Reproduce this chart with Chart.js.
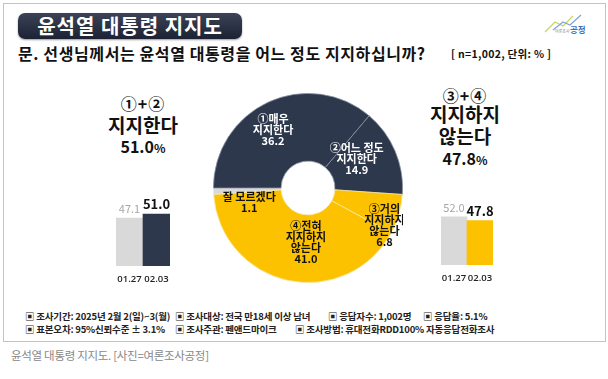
<!DOCTYPE html>
<html><head><meta charset="utf-8">
<script src="https://cdn.jsdelivr.net/npm/chart.js@4/dist/chart.umd.min.js"></script>
<style>
html,body{margin:0;padding:0;background:#fff;}
body{width:608px;height:379px;position:relative;overflow:hidden;font-family:"Noto Sans CJK KR","Noto Sans",sans-serif;color:#111;}
.abs{position:absolute;white-space:nowrap;}
#frame{position:absolute;left:3px;top:3px;width:601px;height:337px;border:1px solid #c4c4c4;}
#title{left:18px;top:13px;width:224px;height:26px;border-radius:7px;background:linear-gradient(#3b4356,#1c2233);color:#fff;font-size:20px;font-weight:700;text-align:center;line-height:26px;letter-spacing:1px;box-shadow:0 1px 2px rgba(0,0,0,.4);}
#q{left:18px;top:41px;font-size:16px;font-weight:700;letter-spacing:0.6px;}
#n{left:451px;top:46px;font-size:10.5px;font-weight:700;letter-spacing:0.3px;}
.big{text-align:center;font-weight:700;line-height:1;}
.foot{font-size:9.5px;font-weight:700;color:#222;letter-spacing:-0.2px;}
#cap{left:11px;top:347px;font-size:11.5px;color:#888;letter-spacing:-0.3px;}
canvas{position:absolute;}
</style></head>
<body>
<div id="frame"></div>
<div id="title" class="abs">윤석열 대통령 지지도</div>
<div id="q" class="abs">문. 선생님께서는 윤석열 대통령을 어느 정도 지지하십니까?</div>
<div id="n" class="abs">[ n=1,002, 단위: % ]</div>
<svg class="abs" style="left:543px;top:12px" width="45" height="28" viewBox="0 0 45 28">
<polyline points="2,20 12,10 20,14 30,4" fill="none" stroke="#c9d36a" stroke-width="1.3"/>
<polyline points="10,18 20,10 27,13 38,3" fill="none" stroke="#7fa8d8" stroke-width="1.3"/>
</svg>
<div class="abs" style="left:555px;top:28px;font-size:4px;color:#8a8a8a;">여론조사</div>
<div class="abs" style="left:570px;top:23px;font-size:8.5px;color:#3d6db5;font-weight:700;">공정</div>

<div class="abs big" style="left:93px;width:100px;top:95px;font-size:16px;letter-spacing:1px;">①+②</div>
<div class="abs big" style="left:93px;width:100px;top:115px;font-size:19px;">지지한다</div>
<div class="abs big" style="left:93px;width:100px;top:138px;font-size:16px;" id="lt"></div>

<div class="abs big" style="left:415px;width:100px;top:87px;font-size:16px;letter-spacing:1px;">③+④</div>
<div class="abs big" style="left:415px;width:100px;top:104px;font-size:19px;">지지하지</div>
<div class="abs big" style="left:415px;width:100px;top:126px;font-size:19px;">않는다</div>
<div class="abs big" style="left:415px;width:100px;top:150px;font-size:16px;" id="rt"></div>

<canvas id="donut" width="190" height="190" style="left:213px;top:93px;width:190px;height:190px"></canvas>
<canvas id="barL" width="94" height="140" style="left:96px;top:150px;width:94px;height:140px"></canvas>
<canvas id="barR" width="92" height="140" style="left:421px;top:149px;width:92px;height:140px"></canvas>

<div class="abs foot" style="left:25px;top:309px;">▣ 조사기간: 2025년 2월 2(일)~3(월)</div>
<div class="abs foot" style="left:175px;top:309px;">▣ 조사대상: 전국 만18세 이상 남녀</div>
<div class="abs foot" style="left:328px;top:309px;">▣ 응답자수: 1,002명</div>
<div class="abs foot" style="left:423px;top:309px;">▣ 응답율: 5.1%</div>
<div class="abs foot" style="left:25px;top:322px;">▣ 표본오차: 95%신뢰수준 ± 3.1%</div>
<div class="abs foot" style="left:175px;top:322px;">▣ 조사주관: 펜앤드마이크</div>
<div class="abs foot" style="left:295px;top:322px;">▣ 조사방법: 휴대전화RDD100% 자동응답전화조사</div>
<div id="cap" class="abs">윤석열 대통령 지지도. [사진=여론조사공정]</div>

<script>
// ---- data ----
const donutLabels = ["잘 모르겠다", "①매우 지지한다", "②어느 정도 지지한다", "③거의 지지하지 않는다", "④전혀 지지하지 않는다"];
const donutValues = [1.1, 36.2, 14.9, 6.8, 41.0];
const donutLines = [["잘 모르겠다", "1.1"], ["①매우", "지지한다", "36.2"], ["②어느 정도", "지지한다", "14.9"], ["③거의", "지지하지", "않는다", "6.8"], ["④전혀", "지지하지", "않는다", "41.0"]];
const dates = ["01.27", "02.03"];
const supportValues = [47.1, 51.0];
const opposeValues = [52.0, 47.8];
const supportTotal = "51.0";
const opposeTotal = "47.8";

document.getElementById('lt').innerHTML = supportTotal + '<span style="font-size:12px">%</span>';
document.getElementById('rt').innerHTML = opposeTotal + '<span style="font-size:12px">%</span>';

const NAVY = '#2d384c', YEL = '#fcc200', GRAY = '#d9d9d9';
const FONT = '"Noto Sans CJK KR","Noto Sans",sans-serif';

// label placement tweaks (radius ratio of outer radius, angle shift in degrees)
const labelPlace = [{r: 0.64, da: -12, c: '#111'}, {r: 0.72, da: -6, c: '#fff'}, {r: 0.60, da: -8, c: '#fff'}, {r: 0.90, da: 10, c: '#111'}, {r: 0.57, da: -10, c: '#111'}];

const donutLabelPlugin = {
  id: 'dl',
  afterDatasetsDraw(chart) {
    const ctx = chart.ctx;
    const meta = chart.getDatasetMeta(0);
    meta.data.forEach((arc, i) => {
      const p = labelPlace[i];
      const mid = (arc.startAngle + arc.endAngle) / 2 + p.da * Math.PI / 180;
      const rr = arc.outerRadius * p.r;
      const x = arc.x + Math.cos(mid) * rr;
      const y = arc.y + Math.sin(mid) * rr;
      const lines = donutLines[i];
      const lh = 11;
      ctx.save();
      ctx.fillStyle = p.c;
      ctx.font = '700 11px ' + FONT;
      ctx.textAlign = 'center';
      ctx.textBaseline = 'middle';
      lines.forEach((t, k) => {
        ctx.fillText(t, x, y + (k - (lines.length - 1) / 2) * lh);
      });
      ctx.restore();
    });
  }
};

new Chart(document.getElementById('donut'), {
  type: 'doughnut',
  data: {labels: donutLabels, datasets: [{data: donutValues, backgroundColor: [GRAY, NAVY, NAVY, YEL, YEL], borderColor: ['#e8e8e8', '#8a93a3', '#8a93a3', '#f6e7b0', '#f6e7b0'], borderWidth: 0.8}]},
  options: {responsive: false, animation: false, cutout: '28.5%', rotation: -94,
    plugins: {legend: {display: false}, tooltip: {enabled: false}}},
  plugins: [donutLabelPlugin]
});

const barLabelPlugin = {
  id: 'bl',
  afterDatasetsDraw(chart) {
    const ctx = chart.ctx;
    const meta = chart.getDatasetMeta(0);
    const ds = chart.data.datasets[0].data;
    const xs = chart.scales.x;
    meta.data.forEach((bar, i) => {
      ctx.save();
      ctx.textAlign = 'center';
      ctx.textBaseline = 'alphabetic';
      if (i === 0) { ctx.fillStyle = '#a6a6a6'; ctx.font = '400 11px ' + FONT; ctx.fillText(ds[i].toFixed(1), bar.x, bar.y - 5); }
      else { ctx.fillStyle = '#111'; ctx.font = '700 13px ' + FONT; ctx.fillText(ds[i].toFixed(1), bar.x, bar.y - 5); }
      ctx.fillStyle = '#222'; ctx.font = '600 9.5px "Open Sans", sans-serif'; ctx.textBaseline = 'middle';
      ctx.fillText(chart.data.labels[i], xs.getPixelForValue(i), chart.chartArea.bottom + 13);
      ctx.restore();
    });
  }
};

function barChart(id, vals, color, max) {
  new Chart(document.getElementById(id), {
    type: 'bar',
    data: {labels: dates, datasets: [{data: vals, backgroundColor: [GRAY, color], categoryPercentage: 1, barPercentage: 1, borderWidth: 0}]},
    options: {responsive: false, animation: false,
      layout: {padding: {left: 20, right: 20, top: 14, bottom: 24}},
      scales: {x: {display: false}, y: {display: false, min: 0, max: max}},
      plugins: {legend: {display: false}, tooltip: {enabled: false}}},
    plugins: [barLabelPlugin]
  });
}
barChart('barL', supportValues, NAVY, 100);
barChart('barR', opposeValues, YEL, 110);
</script>
</body></html>
